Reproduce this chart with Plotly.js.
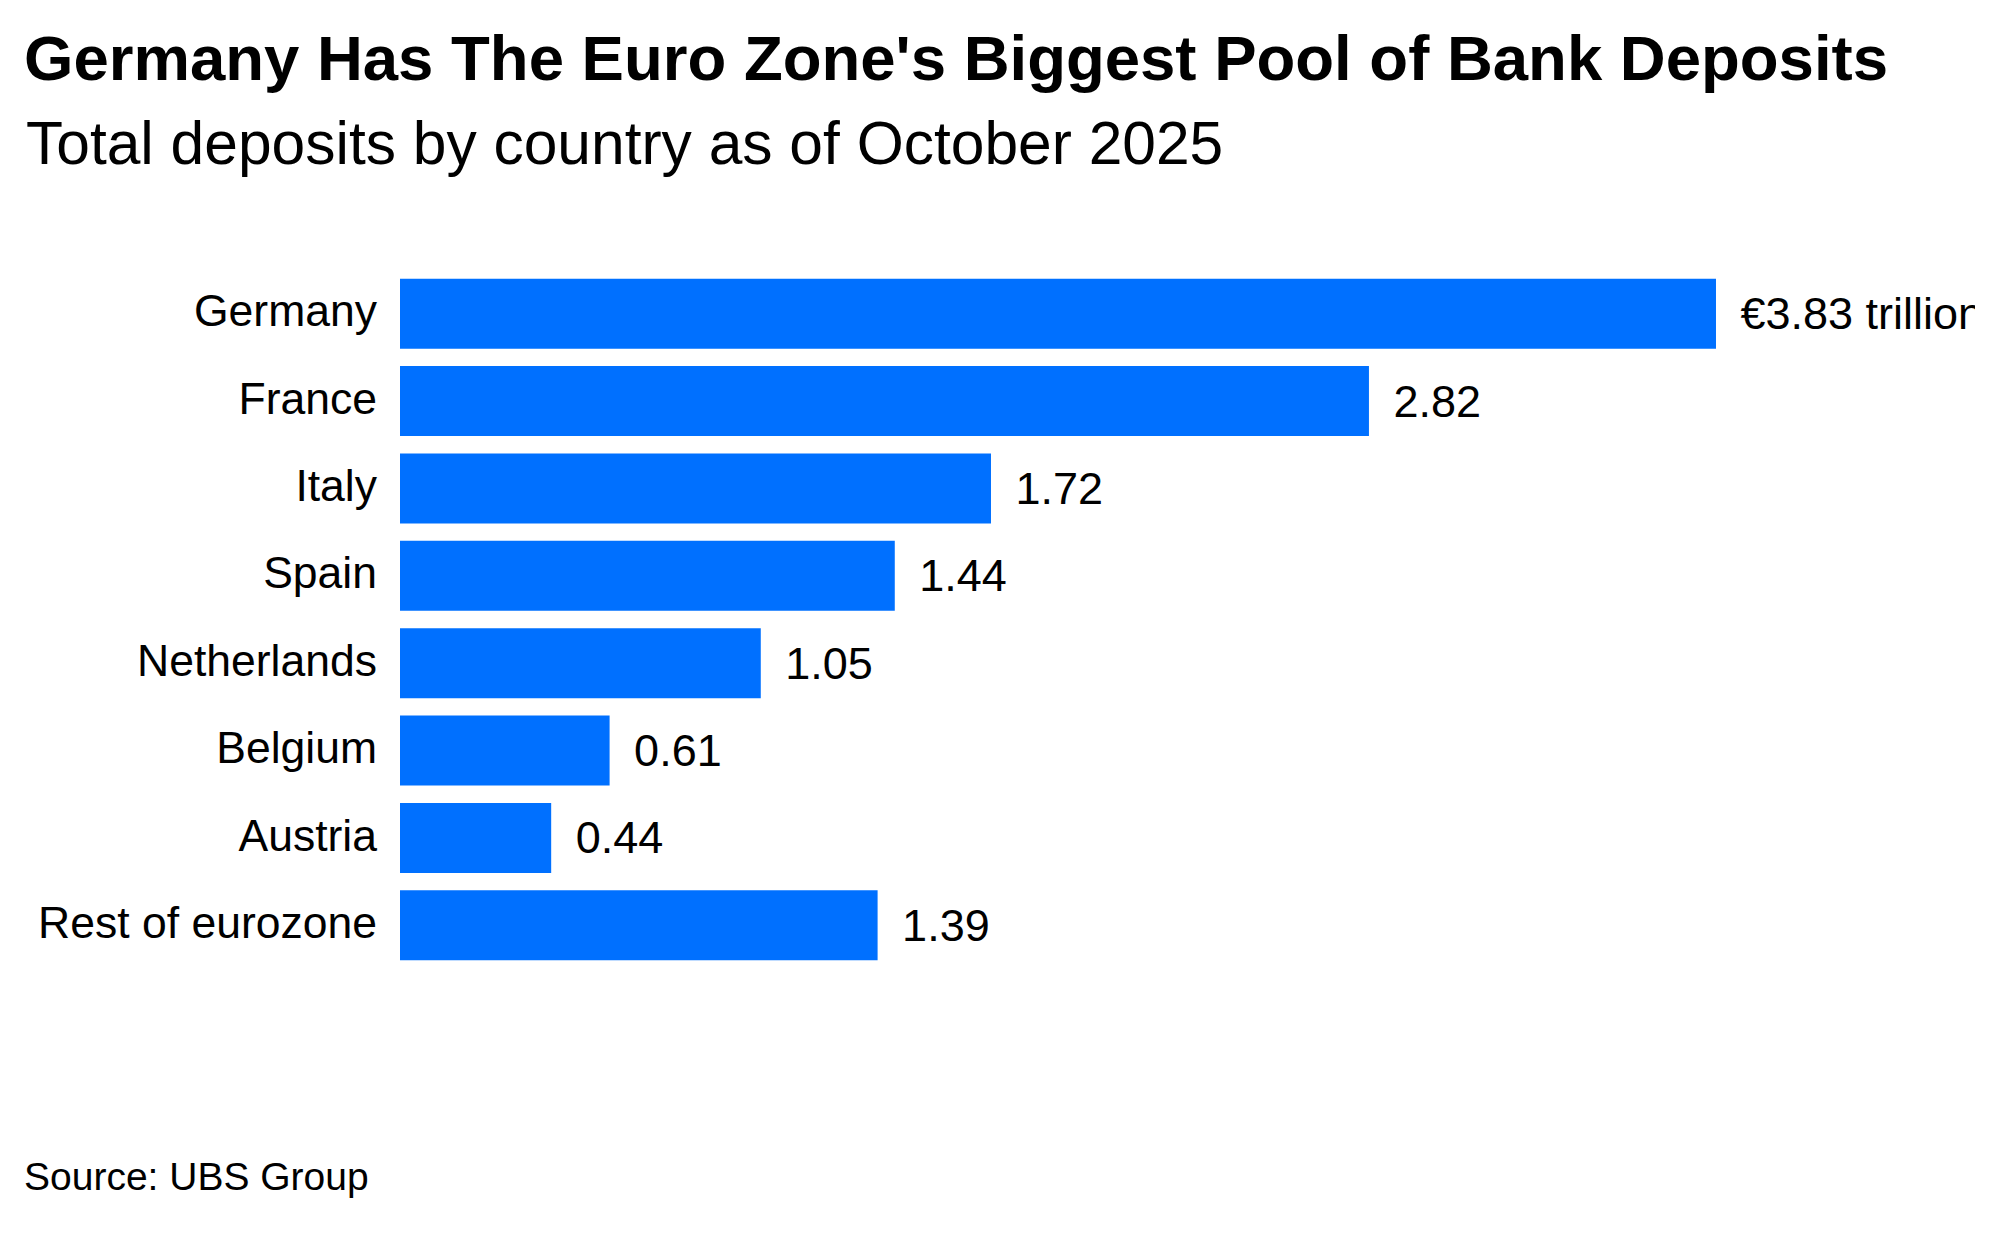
<!DOCTYPE html>
<html>
<head>
<meta charset="utf-8">
<script src="https://cdn.plot.ly/plotly-3.0.1.min.js"></script>
<style>html,body{margin:0;padding:0;background:#fff;}#chart{width:2000px;height:1239px;}</style>
</head>
<body>
<div id="chart"></div>
<script>
const countries = ["Germany", "France", "Italy", "Spain", "Netherlands", "Belgium", "Austria", "Rest of eurozone"];
const deposits = [3.83, 2.82, 1.72, 1.44, 1.05, 0.61, 0.44, 1.39];
const valueLabels = ["€3.83 trillion", "2.82", "1.72", "1.44", "1.05", "0.61", "0.44", "1.39"];
const titleText = "Germany Has The Euro Zone's Biggest Pool of Bank Deposits";
const subtitleText = "Total deposits by country as of October 2025";
const sourceText = "Source: UBS Group";

const W = 2000, H = 1239;
const mL = 400, mR = 25, mT = 270, mB = 270;
const pw = W - mL - mR, ph = H - mT - mB;
const pxPerUnit = 343.6;
const px2x = p => (p - mL) / pw;
const px2y = p => (H - mB - p) / ph;
const FONT = "Liberation Sans, Arial, Helvetica, sans-serif";

const trace = {
  type: 'bar',
  orientation: 'h',
  y: countries,
  x: deposits,
  text: valueLabels,
  texttemplate: '\u00a0\u2009%{text}',
  textposition: 'outside',
  constraintext: 'none',
  cliponaxis: true,
  textfont: {family: FONT, size: 45, color: '#000'},
  marker: {color: '#0070ff', line: {width: 0}},
  hoverinfo: 'skip'
};

const annotations = [
  {text: '<b>' + titleText + '</b>', xref: 'paper', yref: 'paper', x: px2x(22), y: px2y(58), xanchor: 'left', yanchor: 'middle', showarrow: false, font: {family: FONT, size: 63.5, color: '#000'}},
  {text: subtitleText, xref: 'paper', yref: 'paper', x: px2x(24), y: px2y(143), xanchor: 'left', yanchor: 'middle', showarrow: false, font: {family: FONT, size: 60.5, color: '#000'}},
  {text: sourceText, xref: 'paper', yref: 'paper', x: px2x(22), y: px2y(1176), xanchor: 'left', yanchor: 'middle', showarrow: false, font: {family: FONT, size: 39, color: '#000'}}
];

const layout = {
  width: W, height: H,
  margin: {l: mL, r: mR, t: mT, b: mB, pad: 0},
  paper_bgcolor: '#fff', plot_bgcolor: '#fff',
  showlegend: false,
  bargap: 0.2,
  xaxis: {range: [0, pw / pxPerUnit], visible: false, fixedrange: true},
  yaxis: {
    type: 'category', categoryorder: 'array', categoryarray: countries,
    range: [7.5, -0.5], showgrid: false, zeroline: false, showline: false,
    ticks: '', ticklabelstandoff: 22, ticklabelshift: 3,
    tickfont: {family: FONT, size: 44.5, color: '#000'}
  },
  annotations: annotations
};

Plotly.newPlot('chart', [trace], layout, {staticPlot: true, displayModeBar: false});
</script>
</body>
</html>
